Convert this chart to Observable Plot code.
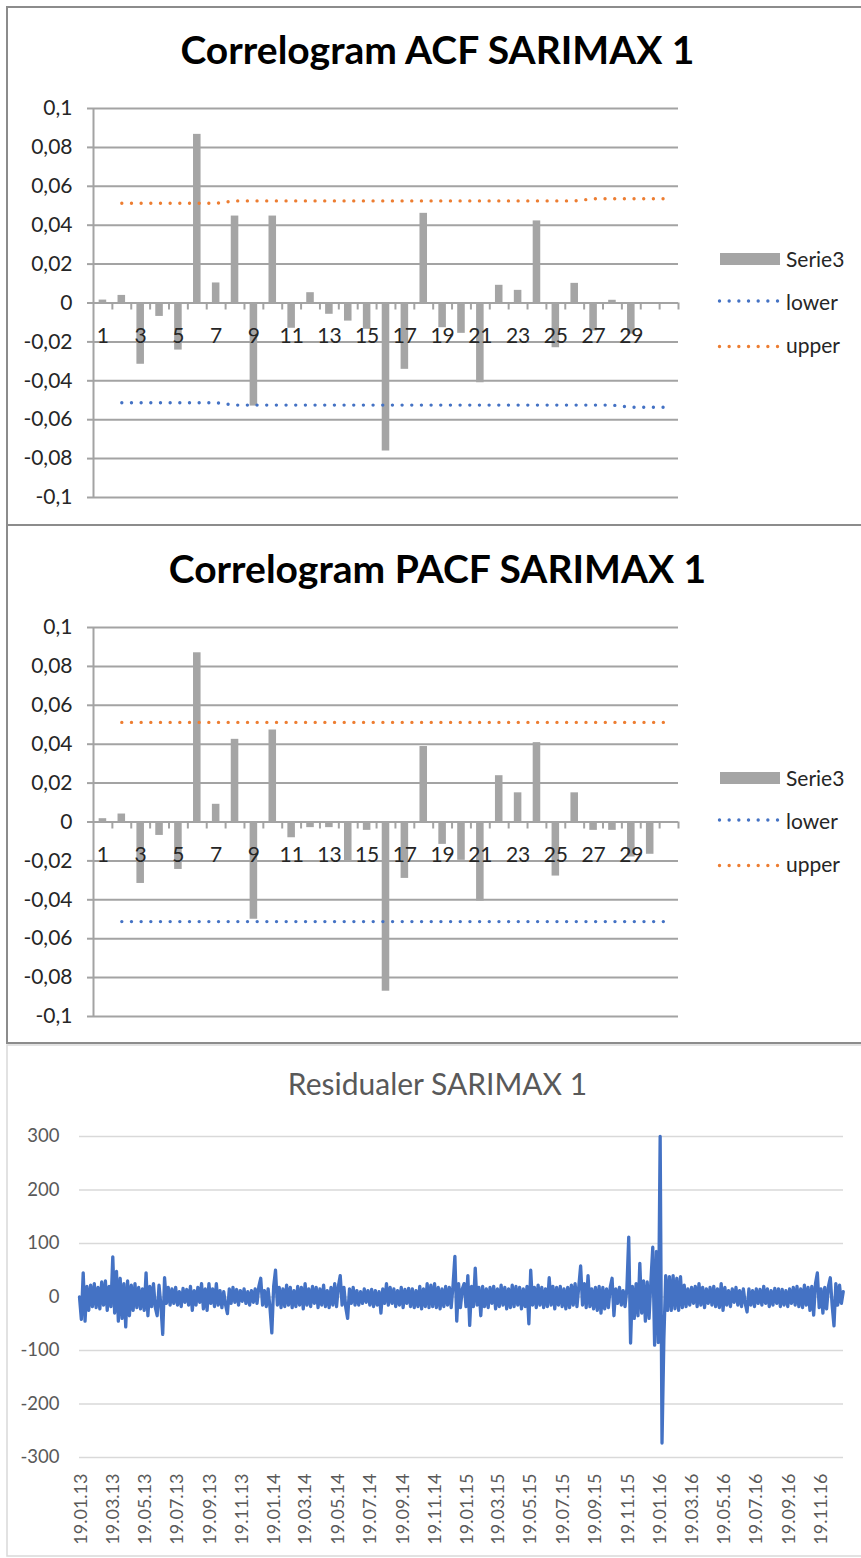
<!DOCTYPE html>
<html><head><meta charset="utf-8">
<script src="https://cdn.jsdelivr.net/npm/d3@7"></script>
<script src="https://cdn.jsdelivr.net/npm/@observablehq/plot@0.6"></script>
<style>
html,body{margin:0;padding:0;background:#fff;}
body{width:861px;height:1558px;position:relative;overflow:hidden;font-family:Lato,sans-serif;}
.abs{position:absolute;}
</style></head><body>
<div id="p1" class="abs" style="left:0;top:0"></div>
<div id="p2" class="abs" style="left:0;top:519px"></div>
<div id="p3" class="abs" style="left:0;top:1040px"></div>
<svg id="overlay" class="abs" width="861" height="1558" style="left:0;top:0;pointer-events:none"></svg>
<script>
// ---------- data ----------
const lags = [1,2,3,4,5,6,7,8,9,10,11,12,13,14,15,16,17,18,19,20,21,22,23,24,25,26,27,28,29,30,31];
const lagLabels = ["1","3","5","7","9","11","13","15","17","19","21","23","25","27","29"];
const corrTicks = [-0.1,-0.08,-0.06,-0.04,-0.02,0,0.02,0.04,0.06,0.08,0.1];

const acfValues = [0.0015,0.0039,-0.0315,-0.0069,-0.0242,0.0867,0.0103,0.0447,-0.0530,0.0447,
  -0.0130,0.0053,-0.0058,-0.0093,-0.0135,-0.0761,-0.0341,0.0461,-0.0127,-0.0156,
  -0.0410,0.0091,0.0065,0.0422,-0.0230,0.0101,-0.0144,0.0014,-0.0160,0,0];
// bounds are given for lags 2..31
const boundLags = [2,3,4,5,6,7,8,9,10,11,12,13,14,15,16,17,18,19,20,21,22,23,24,25,26,27,28,29,30,31];
const acfUpper = [0.0513,0.0513,0.0513,0.0513,0.0513,0.0513,0.0525,0.0525,0.0525,0.0525,
  0.0525,0.0525,0.0525,0.0525,0.0525,0.0525,0.0525,0.0525,0.0525,0.0525,
  0.0525,0.0525,0.0525,0.0525,0.0525,0.0536,0.0536,0.0536,0.0536,0.0536];
const acfLower = [-0.0513,-0.0513,-0.0513,-0.0513,-0.0513,-0.0513,-0.0525,-0.0525,-0.0525,-0.0525,
  -0.0525,-0.0525,-0.0525,-0.0525,-0.0525,-0.0525,-0.0525,-0.0525,-0.0525,-0.0525,
  -0.0525,-0.0525,-0.0525,-0.0525,-0.0525,-0.0525,-0.0525,-0.0536,-0.0536,-0.0536];

const pacfValues = [0.0017,0.0041,-0.0316,-0.0069,-0.0244,0.0870,0.0091,0.0425,-0.0500,0.0473,
  -0.0081,-0.0029,-0.0029,-0.0200,-0.0043,-0.0870,-0.0290,0.0388,-0.0115,-0.0197,
  -0.0407,0.0238,0.0150,0.0408,-0.0278,0.0150,-0.0043,-0.0043,-0.0180,-0.0166,0];
const pacfUpper = [0.0512,0.0512,0.0512,0.0512,0.0512,0.0512,0.0512,0.0512,0.0512,0.0512,
  0.0512,0.0512,0.0512,0.0512,0.0512,0.0512,0.0512,0.0512,0.0512,0.0512,
  0.0512,0.0512,0.0512,0.0512,0.0512,0.0512,0.0512,0.0512,0.0512,0.0512];
const pacfLower = [-0.0512,-0.0512,-0.0512,-0.0512,-0.0512,-0.0512,-0.0512,-0.0512,-0.0512,-0.0512,
  -0.0512,-0.0512,-0.0512,-0.0512,-0.0512,-0.0512,-0.0512,-0.0512,-0.0512,-0.0512,
  -0.0512,-0.0512,-0.0512,-0.0512,-0.0512,-0.0512,-0.0512,-0.0512,-0.0512,-0.0512];

// residuals: readings every 3.5 days (84 h) starting 15.01.2013
const residStart = "2013-01-15";
const residStepHours = 84;
const residValues = [
  0,-42,45,-45,20,-25,22,-18,25,-20,
  18,-22,28,-15,30,-25,20,-18,75,-30,
  48,-45,35,-40,25,-56,30,-35,22,-25,
  25,-20,18,-22,15,-25,45,-35,20,-18,
  25,-20,-35,22,-15,-70,36,-12,18,-15,
  15,-12,18,-15,10,-18,16,-10,14,-15,
  20,-25,12,-15,18,-10,25,-22,15,-25,
  25,-12,15,-18,25,-15,12,-20,10,-15,
  -31,15,-12,18,-10,14,-15,12,-8,15,
  -12,10,-15,12,-10,15,-12,20,35,-15,
  12,-18,15,-20,-67,20,50,-15,18,-20,
  15,-18,22,-15,18,-20,12,-18,20,-15,
  18,-22,25,-15,15,-18,20,-12,18,-20,
  15,-15,22,-18,12,-20,18,-15,25,-18,
  20,40,-15,18,-20,-40,15,-12,18,-15,
  12,-15,10,-12,15,-10,12,-15,14,-18,
  12,-15,10,-30,15,-12,25,-15,18,-12,
  15,-18,12,-15,18,-20,14,-12,16,-18,
  15,-20,12,-18,20,-22,15,-18,25,-20,
  22,-18,25,-20,18,-22,15,-18,20,-15,
  18,-20,22,76,-45,25,-20,15,25,-18,
  40,-53,20,-18,54,-15,18,-35,20,-18,
  15,-20,18,-12,20,-22,15,-18,22,-15,
  18,-22,15,-20,22,-18,20,-15,18,-22,
  15,-18,20,-50,50,-15,18,-20,22,-15,
  18,-20,15,-18,36,-15,20,-22,18,-15,
  20,-18,15,-22,18,-20,22,-15,25,-18,
  20,58,-15,25,-20,40,-18,15,-22,18,
  -25,20,-30,18,-22,15,-20,18,35,-35,
  15,-12,18,-15,12,-18,15,112,-86,20,
  -40,25,-35,63,-30,30,-45,28,-40,30,
  93,-90,85,-85,300,-273,-80,40,-25,38,
  -25,40,-22,35,-25,38,-20,22,-18,15,
  -15,18,-12,20,-18,25,-15,18,-20,15,
  -12,18,-15,20,-18,15,-20,25,-25,18,
  -15,12,-18,15,-10,18,-15,12,-18,15,
  -12,-28,15,-15,12,-18,15,-12,14,-15,
  20,-12,15,-18,12,-15,16,-12,15,-18,
  14,-15,12,-18,15,-12,18,-15,20,-18,
  15,-20,22,-15,18,-25,20,-34,25,45,
  -20,15,-30,18,-22,20,36,-15,-54,25,
  -15,22,-12,10];
const residTicks = [-300,-200,-100,0,100,200,300];
const residDateLabels = ["19.01.13","19.03.13","19.05.13","19.07.13","19.09.13","19.11.13",
  "19.01.14","19.03.14","19.05.14","19.07.14","19.09.14","19.11.14",
  "19.01.15","19.03.15","19.05.15","19.07.15","19.09.15","19.11.15",
  "19.01.16","19.03.16","19.05.16","19.07.16","19.09.16","19.11.16"];
const residDomain = ["2013-01-15","2016-12-31"];

// ---------- styles ----------
const GRID = "#a3a3a3", BAR = "#a5a5a5", ORANGE = "#ED7D31", BLUE = "#4472C4", TXT = "#262626";
const fmtComma = v => v === 0 ? "0" : String(Math.round(v * 100) / 100).replace(".", ",");

function correlogram(values, upper, lower) {
  const bars = lags.map((lag, i) => ({lag, v: values[i]}));
  const bands = boundLags.map((lag, i) => ({lag, up: upper[i], lo: lower[i]}));
  return Plot.plot({
    width: 700, height: 520,
    marginLeft: 93, marginRight: 22, marginTop: 108, marginBottom: 23,
    x: {type: "linear", domain: [0.5, 31.5], axis: null},
    y: {domain: [-0.1, 0.1]},
    style: {fontFamily: "Lato, sans-serif", background: "transparent", overflow: "visible"},
    marks: [
      Plot.ruleY(corrTicks, {stroke: GRID, strokeWidth: 2}),
      Plot.axisY({ticks: corrTicks, tickFormat: fmtComma, tickSize: 6, tickPadding: 15,
        stroke: GRID, strokeWidth: 2, fill: TXT, fontSize: 21, label: null}),
      Plot.ruleX([0.5], {stroke: GRID, strokeWidth: 2}),
      Plot.rectY(bars, {x1: d => d.lag - 0.2, x2: d => d.lag + 0.2, y1: 0, y2: "v", fill: BAR}),
      Plot.ruleX(lags, {x: d => d + 0.5, y1: 0, y2: -0.0036, stroke: GRID, strokeWidth: 2}),
      Plot.text(lagLabels, {x: d => +d, y: 0, dy: 33, text: d => d, fontSize: 21, fill: TXT}),
      Plot.line(bands, {x: "lag", y: "up", stroke: ORANGE, strokeWidth: 3.4,
        strokeDasharray: "0 9.67", strokeLinecap: "round"}),
      Plot.line(bands, {x: "lag", y: "lo", stroke: BLUE, strokeWidth: 3.4,
        strokeDasharray: "0 9.67", strokeLinecap: "round"})
    ]
  });
}

document.getElementById("p1").append(correlogram(acfValues, acfUpper, acfLower));
document.getElementById("p2").append(correlogram(pacfValues, pacfUpper, pacfLower));

// residual chart
const parseISO = d3.utcParse("%Y-%m-%d");
const parseLbl = d3.utcParse("%d.%m.%y");
const fmtLbl = d3.utcFormat("%d.%m.%y");
const start = parseISO(residStart);
const resid = residValues.map((v, i) => ({date: d3.utcHour.offset(start, residStepHours * i), v}));
const resPlot = Plot.plot({
  width: 861, height: 516,
  marginLeft: 79, marginRight: 18, marginTop: 96, marginBottom: 99,
  x: {type: "utc", domain: residDomain.map(parseISO)},
  y: {domain: [-300, 300]},
  style: {fontFamily: "Lato, sans-serif", background: "transparent", overflow: "visible"},
  marks: [
    Plot.ruleY(residTicks, {stroke: "#d9d9d9", strokeWidth: 1.5}),
    Plot.axisY({ticks: residTicks, tickFormat: d => String(d), tickSize: 0, tickPadding: 20,
      fill: "#595959", fontSize: 18.5, label: null}),
    Plot.axisX({ticks: residDateLabels.map(parseLbl), tickFormat: fmtLbl, tickRotate: -90,
      tickSize: 0, tickPadding: 16, fill: "#595959", fontSize: 18, label: null}),
    Plot.line(resid, {x: "date", y: "v", stroke: BLUE, strokeWidth: 3.3, strokeLinejoin: "round"})
  ]
});
document.getElementById("p3").append(resPlot);

// ---------- frames, titles, legends ----------
const ov = d3.select("#overlay");
ov.append("rect").attr("x", 7).attr("y", 7).attr("width", 900).attr("height", 518)
  .attr("fill", "none").attr("stroke", "#8c8c8c").attr("stroke-width", 2);
ov.append("rect").attr("x", 7).attr("y", 525).attr("width", 900).attr("height", 518)
  .attr("fill", "none").attr("stroke", "#8c8c8c").attr("stroke-width", 2);
ov.append("rect").attr("x", 7).attr("y", 1045).attr("width", 900).attr("height", 511)
  .attr("fill", "none").attr("stroke", "#d9d9d9").attr("stroke-width", 1.5);

const titles = [
  {text: "Correlogram ACF SARIMAX 1", y: 64, size: 39, weight: 700, fill: "#000"},
  {text: "Correlogram PACF SARIMAX 1", y: 583, size: 39, weight: 700, fill: "#000"},
  {text: "Residualer SARIMAX 1", y: 1095, size: 30, weight: 400, fill: "#595959"}
];
for (const t of titles) {
  ov.append("text").attr("x", 437.5).attr("y", t.y).attr("text-anchor", "middle")
    .style("font-family", "Lato, sans-serif").style("font-size", t.size + "px")
    .style("font-weight", t.weight).attr("fill", t.fill).text(t.text);
}

const legendNames = ["Serie3", "lower", "upper"];
for (const off of [0, 519]) {
  const g = ov.append("g").attr("transform", `translate(0,${off})`);
  g.append("rect").attr("x", 720).attr("y", 253).attr("width", 60).attr("height", 12).attr("fill", BAR);
  g.append("line").attr("x1", 719.5).attr("x2", 778).attr("y1", 301).attr("y2", 301)
    .attr("stroke", BLUE).attr("stroke-width", 3.4).attr("stroke-dasharray", "0 9.67").attr("stroke-linecap", "round");
  g.append("line").attr("x1", 719.5).attr("x2", 778).attr("y1", 346.5).attr("y2", 346.5)
    .attr("stroke", ORANGE).attr("stroke-width", 3.4).attr("stroke-dasharray", "0 9.67").attr("stroke-linecap", "round");
  const ys = [266.5, 309.5, 353];
  legendNames.forEach((n, i) => {
    g.append("text").attr("x", 786).attr("y", ys[i]).style("font-family", "Lato, sans-serif")
      .style("font-size", "21px").attr("fill", TXT).text(n);
  });
}
</script>
</body></html>
